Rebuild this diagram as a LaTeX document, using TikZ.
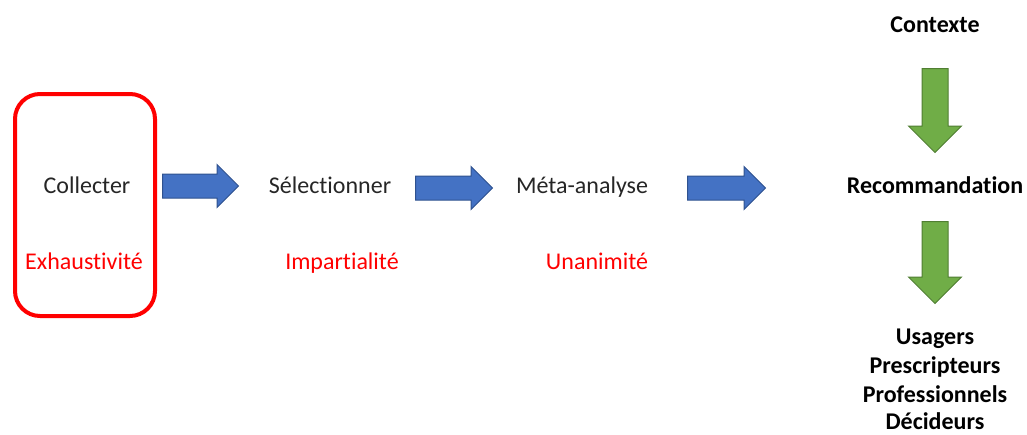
\documentclass[tikz,border=0pt]{standalone}
\usepackage{fontspec}
\setmainfont{Carlito}[Ligatures=NoCommon]
\usetikzlibrary{shapes.arrows}
\definecolor{critred}{HTML}{FF0000}
\definecolor{txtgray}{HTML}{262626}
\definecolor{bfill}{HTML}{4472C4}
\definecolor{bline}{HTML}{2F528F}
\definecolor{gfill}{HTML}{70AD47}
\definecolor{gline}{HTML}{507E32}

\begin{document}
\begin{tikzpicture}
    [x=1pt,y=-1pt,
     every node/.style={inner sep=0pt,anchor=base,text=txtgray,font=\fontsize{24}{29}\selectfont},
     crit/.style={text=critred},
     bold/.style={text=black,font=\fontsize{24}{29}\selectfont\bfseries},
     barrow/.style={single arrow,anchor=tail,draw=bline,fill=bfill,line width=1pt,
       inner ysep=11.5pt,single arrow tip angle=90,single arrow head extend=9.5pt},
     garrow/.style={single arrow,anchor=tail,draw=gline,fill=gfill,line width=1pt,rotate=-90,
       inner ysep=12.5pt,single arrow tip angle=90,single arrow head extend=13.5pt}]
  \useasboundingbox (0,0) rectangle (1027,434);
  % left box
  \node[draw=critred,line width=4pt,rounded corners=25pt,anchor=center,
    minimum width=140pt,minimum height=222pt] (box) at (85,205) {};
  \node (n1) at (87,193) {Collecter};
  \node[crit] (c1) at (84,269) {Exhaustivité};
  \node (n2) at (330,193) {Sélectionner};
  \node[crit] (c2) at (342,269) {Impartialité};
  \node (n3) at (582,193) {Méta-analyse};
  \node[crit] (c3) at (597,269) {Unanimité};
  % right column
  \node[bold] (ctx) at (935,32) {Contexte};
  \node[bold] (rec) at (935,193) {Recommandation};
  \node[bold] (u1) at (935,344.5) {Usagers};
  \node[bold] (u2) at (935,373.5) {Prescripteurs};
  \node[bold] (u3) at (935,402) {Professionnels};
  \node[bold] (u4) at (935,429.5) {Décideurs};
  % arrows
  \node[barrow,minimum height=76pt] (a1) at (162,186) {};
  \node[barrow,minimum height=77pt] (a2) at (415,188) {};
  \node[barrow,minimum height=78pt] (a3) at (687,188) {};
  \node[garrow,minimum height=84pt] (g1) at (935,68) {};
  \node[garrow,minimum height=82pt] (g2) at (935,221) {};
\end{tikzpicture}
\end{document}
